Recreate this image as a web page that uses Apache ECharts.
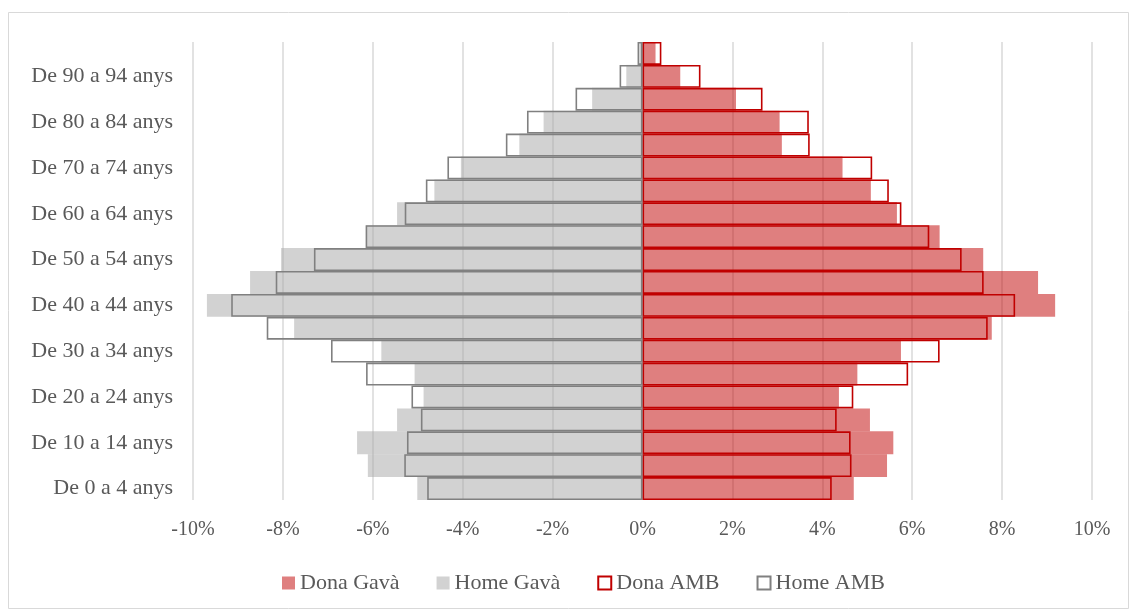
<!DOCTYPE html>
<html>
<head>
<meta charset="utf-8">
<script src="https://cdn.jsdelivr.net/npm/echarts@6/dist/echarts.min.js"></script>
<style>
  html, body { margin: 0; padding: 0; background: #fff; }
  #chart { width: 1130px; height: 610px; }
</style>
</head>
<body>
<div id="chart"></div>
<script>
// age groups, bottom to top
const ageGroups = [
  'De 0 a 4 anys', 'De 5 a 9 anys', 'De 10 a 14 anys', 'De 15 a 19 anys',
  'De 20 a 24 anys', 'De 25 a 29 anys', 'De 30 a 34 anys', 'De 35 a 39 anys',
  'De 40 a 44 anys', 'De 45 a 49 anys', 'De 50 a 54 anys', 'De 55 a 59 anys',
  'De 60 a 64 anys', 'De 65 a 69 anys', 'De 70 a 74 anys', 'De 75 a 79 anys',
  'De 80 a 84 anys', 'De 85 a 89 anys', 'De 90 a 94 anys', 'De 95 anys i més'
];

// % of population (home values negative, drawn on the left)
const donaGava = [4.70, 5.44, 5.58, 5.06, 4.37, 4.78, 5.75, 7.77, 9.18, 8.80,
                  7.58, 6.61, 5.66, 5.08, 4.45, 3.10, 3.05, 2.08, 0.84, 0.29];
const homeGava = [-5.01, -6.11, -6.35, -5.46, -4.87, -5.07, -5.81, -7.75, -9.69, -8.73,
                  -8.04, -6.15, -5.46, -4.63, -4.04, -2.74, -2.20, -1.12, -0.36, -0.07];
const donaAmb = [4.21, 4.65, 4.63, 4.32, 4.69, 5.91, 6.61, 7.68, 8.29, 7.59,
                 7.10, 6.38, 5.76, 5.48, 5.11, 3.72, 3.70, 2.67, 1.29, 0.42];
const homeAmb = [-4.79, -5.30, -5.24, -4.93, -5.14, -6.15, -6.93, -8.36, -9.15, -8.16,
                 -7.31, -6.16, -5.29, -4.82, -4.34, -3.04, -2.57, -1.49, -0.51, -0.11];

const xMin = -10, xMax = 10, xStep = 2;

const fontFamily = '"Liberation Serif", "DejaVu Serif", serif';
const chart = echarts.init(document.getElementById('chart'));

const fillSeries = (name, data, color) => ({
  name: name,
  type: 'bar',
  data: data,
  barGap: '-100%',
  barCategoryGap: '0%',
  itemStyle: { color: color },
  z: 2
});

const outlineSeries = (name, data, color) => ({
  name: name,
  type: 'bar',
  data: data,
  barGap: '-100%',
  barCategoryGap: '0%',
  itemStyle: { color: 'rgba(255,255,255,0)', borderColor: color, borderWidth: 1.6 },
  z: 3
});

chart.setOption({
  animation: false,
  backgroundColor: '#fff',
  textStyle: { fontFamily: fontFamily },
  graphic: [{
    type: 'rect',
    shape: { x: 8.5, y: 12.5, width: 1120, height: 596 },
    style: { fill: 'none', stroke: '#d9d9d9', lineWidth: 1 },
    silent: true
  }],
  grid: { left: 193, right: 38, top: 42, bottom: 110 },
  legend: {
    top: 567,
    left: 277,
    icon: 'rect',
    itemWidth: 13,
    itemHeight: 13,
    itemGap: 37,
    textStyle: { fontFamily: fontFamily, fontSize: 22, color: '#595959' },
    data: [
      { name: 'Dona Gavà', itemStyle: { color: 'rgba(192,0,0,0.5)' } },
      { name: 'Home Gavà', itemStyle: { color: 'rgba(166,166,166,0.5)' } },
      { name: 'Dona AMB', itemStyle: { color: '#fff', borderColor: '#c00000', borderWidth: 2 } },
      { name: 'Home AMB', itemStyle: { color: '#fff', borderColor: '#808080', borderWidth: 2 } }
    ]
  },
  xAxis: {
    type: 'value',
    min: xMin,
    max: xMax,
    interval: xStep,
    axisLine: { show: false },
    axisTick: { show: false },
    splitLine: { lineStyle: { color: '#d9d9d9', width: 1.5 } },
    axisLabel: {
      formatter: v => Math.round(v) + '%',
      fontSize: 20,
      color: '#595959',
      margin: 20
    }
  },
  yAxis: {
    type: 'category',
    data: ageGroups,
    axisLine: { show: false },
    axisTick: { show: false },
    axisLabel: {
      interval: 1,
      fontSize: 22,
      color: '#595959',
      margin: 20
    }
  },
  series: [
    fillSeries('Dona Gavà', donaGava, 'rgba(192,0,0,0.5)'),
    fillSeries('Home Gavà', homeGava, 'rgba(166,166,166,0.5)'),
    outlineSeries('Dona AMB', donaAmb, '#c00000'),
    outlineSeries('Home AMB', homeAmb, '#808080')
  ]
});
</script>
</body>
</html>
